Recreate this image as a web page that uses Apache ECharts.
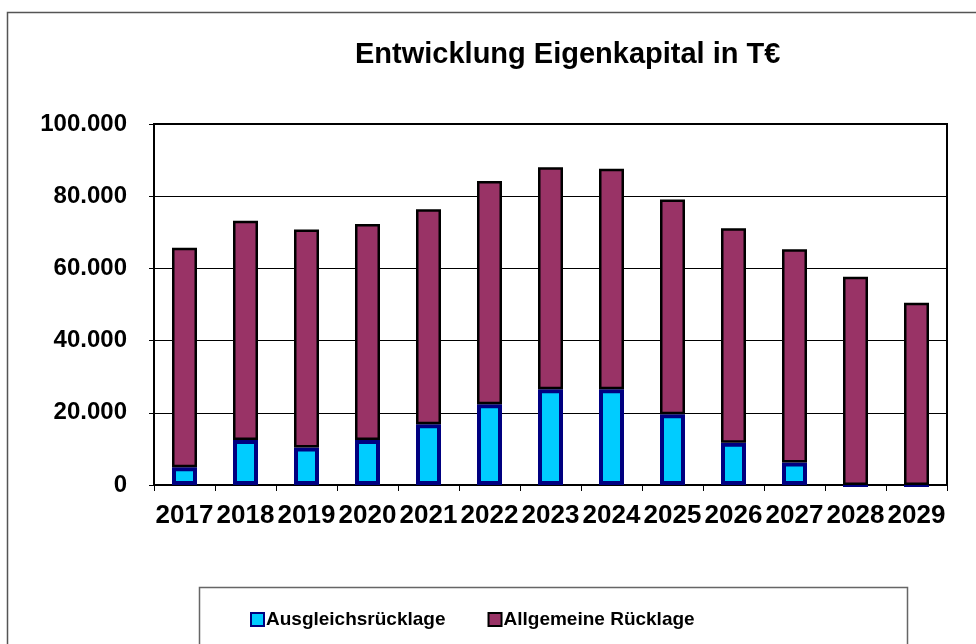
<!DOCTYPE html>
<html>
<head>
<meta charset="utf-8">
<script src="https://cdn.jsdelivr.net/npm/echarts@6/dist/echarts.min.js"></script>
<style>
    html, body { margin: 0; padding: 0; background: #fff; }
    #chart { width: 976px; height: 644px; }
</style>
</head>
<body>
<div id="chart"></div>
<script>
// Jahre und Werte in T€
const years = ['2017', '2018', '2019', '2020', '2021', '2022', '2023', '2024', '2025', '2026', '2027', '2028', '2029']
const ausgleich = [4900, 12500, 10400, 12500, 16800, 22400, 26500, 26500, 19600, 11700, 6200, 0, 0]
const allgemein = [60800, 60700, 60400, 59800, 59600, 61800, 61500, 61100, 59500, 59400, 59100, 57700, 50500]
const yTicks = [0, 20000, 40000, 60000, 80000, 100000]

const font = "'Liberation Sans', Arial, sans-serif"

const chart = echarts.init(document.getElementById('chart'))
chart.setOption({
    backgroundColor: '#fff',
    animation: false,
    title: {
        text: 'Entwicklung Eigenkapital in T€',
        left: 350,
        top: 35,
        textStyle: {
            fontFamily: font,
            fontSize: 29,
            fontWeight: 'bold',
            color: '#000'
        }
    },
    legend: {
        left: 245,
        top: 605,
        itemGap: 42,
        itemWidth: 13,
        itemHeight: 13,
        icon: 'rect',
        textStyle: {
            fontFamily: font,
            fontSize: 19,
            fontWeight: 'bold',
            color: '#000',
            padding: [0, 0, 0, -3]
        },
        data: ['Ausgleichsrücklage', 'Allgemeine Rücklage']
    },
    grid: {
        left: 154,
        right: 29,
        top: 124,
        bottom: 159,
        show: true,
        borderColor: '#000',
        borderWidth: 2
    },
    xAxis: {
        type: 'category',
        data: years,
        boundaryGap: true,
        axisLine: { lineStyle: { color: '#000', width: 2 } },
        axisTick: { show: true, length: 6, lineStyle: { color: '#000', width: 1 } },
        axisLabel: {
            interval: 0,
            margin: 18,
            fontFamily: font,
            fontSize: 26,
            fontWeight: 'bold',
            color: '#000'
        }
    },
    yAxis: {
        type: 'value',
        min: yTicks[0],
        max: yTicks[yTicks.length - 1],
        interval: yTicks[1] - yTicks[0],
        axisLine: { show: true, lineStyle: { color: '#000', width: 2 } },
        axisTick: { show: true, length: 5, lineStyle: { color: '#000', width: 1 } },
        splitLine: { lineStyle: { color: '#000', width: 1 } },
        axisLabel: {
            margin: 27,
            fontFamily: font,
            fontSize: 24,
            fontWeight: 'bold',
            color: '#000',
            formatter: function (v) {
                return v.toString().replace(/\B(?=(\d{3})+(?!\d))/g, '.')
            }
        }
    },
    graphic: [
        {
            // äußerer Rahmen
            type: 'rect',
            shape: { x: 7.5, y: 12.5, width: 1000, height: 700 },
            style: { fill: 'none', stroke: '#555', lineWidth: 1.5 },
            silent: true
        },
        {
            // Legendenrahmen
            type: 'rect',
            shape: { x: 199.5, y: 587.5, width: 708, height: 100 },
            style: { fill: 'none', stroke: '#666', lineWidth: 1.5 },
            silent: true
        }
    ],
    series: [
        {
            name: 'Ausgleichsrücklage',
            type: 'bar',
            stack: 'ek',
            barWidth: 25,
            data: ausgleich,
            itemStyle: { color: '#00CCFF', borderColor: '#000080', borderWidth: 4 }
        },
        {
            name: 'Allgemeine Rücklage',
            type: 'bar',
            stack: 'ek',
            barWidth: 25,
            data: allgemein,
            itemStyle: { color: '#993366', borderColor: '#000', borderWidth: 2.5 }
        }
    ]
})
</script>
</body>
</html>
